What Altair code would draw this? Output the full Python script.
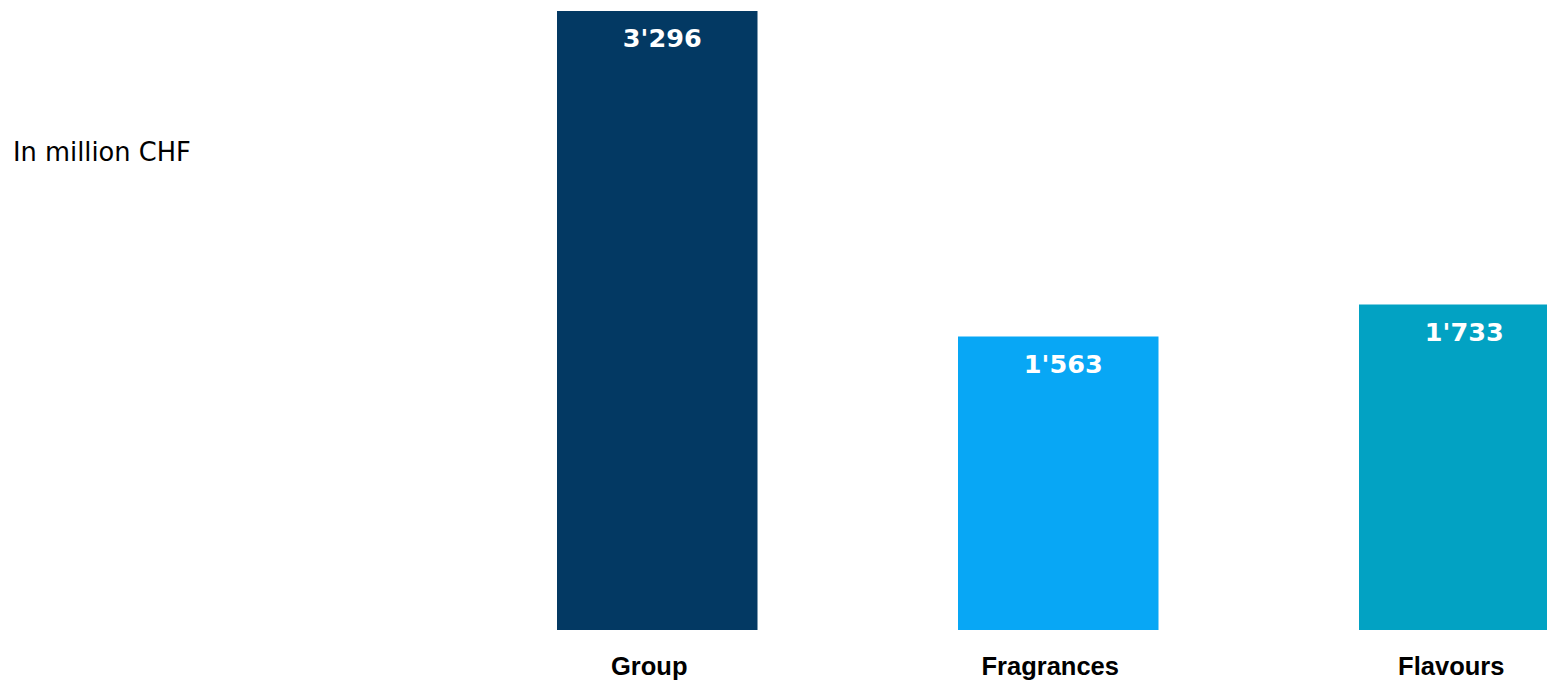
import altair as alt
import pandas as pd

categories = ["Group", "Fragrances", "Flavours"]
values = [3296, 1563, 1733]
value_labels = ["3'296", "1'563", "1'733"]
colors = ["#033963", "#08A7F5", "#02A2C3"]

df = pd.DataFrame({"cat": categories, "val": values, "lab": value_labels})

x = alt.X("cat:N", sort=categories, title=None,
          scale=alt.Scale(range=[557, 1559.5], paddingInner=0.5, paddingOuter=0),
          axis=alt.Axis(domain=False, ticks=False, tickSize=0, labelAngle=0,
                        labelFont="Liberation Sans", labelFontWeight="bold",
                        labelFontSize=25.5, labelColor="#000000",
                        labelBaseline="alphabetic", labelPadding=44, labelOffset=-8))
y = alt.Y("val:Q", axis=None, scale=alt.Scale(domain=[0, 3355], nice=False))

bars = alt.Chart(df).mark_bar(clip=True).encode(
    x=x, y=y,
    color=alt.Color("cat:N", scale=alt.Scale(domain=categories, range=colors), legend=None),
)

labels = alt.Chart(df).mark_text(
    font="DejaVu Sans", fontWeight="bold", fontSize=25.5, color="white",
    baseline="alphabetic", dy=36, dx=5, align="center"
).encode(x=alt.X("cat:N", sort=categories), y="val:Q", text="lab:N")

unit = alt.Chart(pd.DataFrame({"t": ["In million CHF"]})).mark_text(
    font="DejaVu Sans", fontSize=25.7, color="#000000", align="left", baseline="middle"
).encode(x=alt.value(13), y=alt.value(153), text="t:N")

chart = (bars + labels + unit).properties(
    width=1547, height=630, padding=0
).configure_view(stroke=None)

chart.save("out.html", embed_options={"renderer": "svg", "actions": False})
